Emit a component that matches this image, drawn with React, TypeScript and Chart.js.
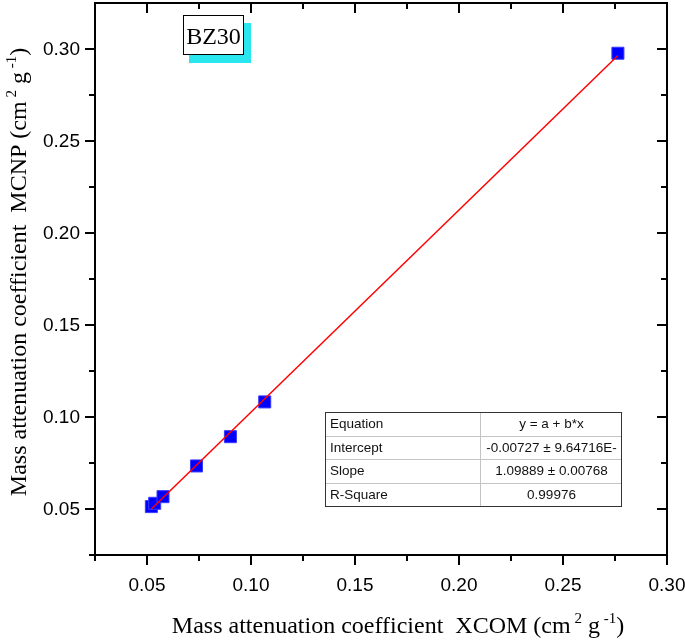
import React, { useEffect, useRef } from 'react';
import { Chart, registerables } from 'chart.js';

Chart.register(...registerables);

// ---- data ----
const xcomValues = [0.0521, 0.0537, 0.0577, 0.0738, 0.0901, 0.1066, 0.2764];
const mcnpValues = [0.0513, 0.0531, 0.0567, 0.0734, 0.0893, 0.1082, 0.2977];
const fitX = [0.0521, 0.2764];
const fitY = [0.05, 0.2965];
const xTicks = [0.05, 0.1, 0.15, 0.2, 0.25, 0.3];
const yTicks = [0.05, 0.1, 0.15, 0.2, 0.25, 0.3];
const xMinorTicks = [0.025, 0.075, 0.125, 0.175, 0.225, 0.275];
const yMinorTicks = [0.025, 0.075, 0.125, 0.175, 0.225, 0.275];
const tableRows = [
  ['Equation', 'y = a + b*x'],
  ['Intercept', '-0.00727 ± 9.64716E-'],
  ['Slope', '1.09889 ± 0.00768'],
  ['R-Square', '0.99976'],
];
const sampleLabel = 'BZ30';
const xTitle = [
  { t: 'Mass attenuation coefficient  XCOM (cm', sup: false },
  { t: ' 2', sup: true },
  { t: ' g', sup: false },
  { t: ' -1', sup: true },
  { t: ')', sup: false },
];
const yTitle = [
  { t: 'Mass attenuation coefficient  MCNP (cm', sup: false },
  { t: ' 2', sup: true },
  { t: ' g', sup: false },
  { t: ' -1', sup: true },
  { t: ')', sup: false },
];

const SERIF = '"Liberation Serif", "Times New Roman", serif';
const SANS = '"Liberation Sans", Arial, sans-serif';

function drawRich(ctx: CanvasRenderingContext2D, segs: { t: string; sup: boolean }[], cx: number, cy: number, angle: number) {
  const main = `24px ${SERIF}`;
  const small = `15px ${SERIF}`;
  let total = 0;
  const widths = segs.map((s) => {
    ctx.font = s.sup ? small : main;
    const w = ctx.measureText(s.t).width;
    total += w;
    return w;
  });
  ctx.save();
  ctx.translate(cx, cy);
  ctx.rotate(angle);
  ctx.fillStyle = '#000';
  ctx.textAlign = 'left';
  ctx.textBaseline = 'alphabetic';
  let xx = -total / 2;
  segs.forEach((s, i) => {
    ctx.font = s.sup ? small : main;
    ctx.fillText(s.t, xx, s.sup ? -10 : 0);
    xx += widths[i];
  });
  ctx.restore();
}

const decorPlugin = {
  id: 'decor',
  afterDraw(chart: any) {
    const { ctx, chartArea: a, scales } = chart;
    const xs = scales.x;
    const ys = scales.y;
    ctx.save();
    ctx.strokeStyle = '#000';
    ctx.lineWidth = 2;
    ctx.strokeRect(a.left, a.top, a.right - a.left, a.bottom - a.top);
    ctx.beginPath();
    xTicks.forEach((v) => {
      const p = xs.getPixelForValue(v);
      ctx.moveTo(p, a.bottom);
      ctx.lineTo(p, a.bottom + 10);
      ctx.moveTo(p, a.top);
      ctx.lineTo(p, a.top + 10);
    });
    xMinorTicks.forEach((v) => {
      const p = xs.getPixelForValue(v);
      ctx.moveTo(p, a.bottom);
      ctx.lineTo(p, a.bottom + 6);
      ctx.moveTo(p, a.top);
      ctx.lineTo(p, a.top + 6);
    });
    yTicks.forEach((v) => {
      const p = ys.getPixelForValue(v);
      ctx.moveTo(a.left - 10, p);
      ctx.lineTo(a.left, p);
      ctx.moveTo(a.right - 10, p);
      ctx.lineTo(a.right, p);
    });
    yMinorTicks.forEach((v) => {
      const p = ys.getPixelForValue(v);
      ctx.moveTo(a.left - 6, p);
      ctx.lineTo(a.left, p);
      ctx.moveTo(a.right - 6, p);
      ctx.lineTo(a.right, p);
    });
    ctx.stroke();

    // tick labels
    ctx.fillStyle = '#000';
    ctx.font = `19px ${SANS}`;
    ctx.textBaseline = 'middle';
    ctx.textAlign = 'center';
    xTicks.forEach((v) => {
      ctx.fillText(v.toFixed(2), xs.getPixelForValue(v), a.bottom + 31);
    });
    ctx.textAlign = 'right';
    yTicks.forEach((v) => {
      ctx.fillText(v.toFixed(2), a.left - 15, ys.getPixelForValue(v) + 1);
    });

    // axis titles
    drawRich(ctx, xTitle, 398, 633, 0);
    drawRich(ctx, yTitle, 26, 272, -Math.PI / 2);

    // sample label box
    ctx.fillStyle = '#2ae6ee';
    ctx.fillRect(189, 23, 62, 40);
    ctx.fillStyle = '#fff';
    ctx.fillRect(183, 15, 61, 40);
    ctx.lineWidth = 1;
    ctx.strokeStyle = '#000';
    ctx.strokeRect(183.5, 15.5, 60, 39);
    ctx.fillStyle = '#000';
    ctx.font = `24px ${SERIF}`;
    ctx.textAlign = 'center';
    ctx.textBaseline = 'alphabetic';
    ctx.fillText(sampleLabel, 213.5, 44);

    // table
    const tl = 325, tt = 412, tw = 296, rh = 23.5, split = 480;
    ctx.fillStyle = '#fff';
    ctx.fillRect(tl, tt, tw, rh * tableRows.length);
    ctx.strokeStyle = '#c4c4c4';
    ctx.lineWidth = 1;
    ctx.beginPath();
    for (let i = 1; i < tableRows.length; i++) {
      const yy = Math.round(tt + rh * i) + 0.5;
      ctx.moveTo(tl, yy);
      ctx.lineTo(tl + tw, yy);
    }
    ctx.moveTo(split + 0.5, tt);
    ctx.lineTo(split + 0.5, tt + rh * tableRows.length);
    ctx.stroke();
    ctx.strokeStyle = '#333';
    ctx.strokeRect(tl + 0.5, tt + 0.5, tw, rh * tableRows.length);
    ctx.font = `13.5px ${SANS}`;
    ctx.fillStyle = '#111';
    ctx.textBaseline = 'middle';
    tableRows.forEach((r, i) => {
      const cy = tt + rh * i + rh / 2 + 1;
      ctx.textAlign = 'left';
      ctx.fillText(r[0], tl + 5, cy);
      ctx.save();
      ctx.beginPath();
      ctx.rect(split + 1, tt, tl + tw - split - 2, rh * tableRows.length);
      ctx.clip();
      ctx.textAlign = 'center';
      ctx.fillText(r[1], (split + tl + tw) / 2 + 1, cy);
      ctx.restore();
    });
    ctx.restore();
  },
};

export default function App() {
  const ref = useRef<HTMLCanvasElement | null>(null);
  useEffect(() => {
    if (!ref.current) return;
    const chart = new Chart(ref.current, {
      type: 'scatter',
      data: {
        datasets: [
          {
            type: 'line',
            label: 'Linear fit',
            data: fitX.map((v, i) => ({ x: v, y: fitY[i] })),
            borderColor: '#ff0000',
            borderWidth: 1.5,
            pointRadius: 0,
            fill: false,
          } as any,
          {
            label: sampleLabel,
            data: xcomValues.map((v, i) => ({ x: v, y: mcnpValues[i] })),
            pointStyle: 'rect',
            pointRadius: 8.5,
            pointBackgroundColor: '#0000ff',
            pointBorderColor: '#3a3aff',
            pointBorderWidth: 1,
          },
        ],
      },
      options: {
        animation: false,
        responsive: false,
        maintainAspectRatio: false,
        layout: { autoPadding: false, padding: { left: 0, right: 18, top: 3, bottom: 0 } },
        plugins: { legend: { display: false }, tooltip: { enabled: false } },
        scales: {
          x: {
            type: 'linear',
            min: 0.025,
            max: 0.3,
            border: { display: false },
            grid: { display: false, drawTicks: false },
            ticks: { display: false },
            afterBuildTicks: (s: any) => {
              s.ticks = xTicks.map((v) => ({ value: v }));
            },
            afterFit: (s: any) => {
              s.height = 85;
            },
          },
          y: {
            type: 'linear',
            min: 0.025,
            max: 0.325,
            border: { display: false },
            grid: { display: false, drawTicks: false },
            ticks: { display: false },
            afterBuildTicks: (s: any) => {
              s.ticks = yTicks.map((v) => ({ value: v }));
            },
            afterFit: (s: any) => {
              s.width = 95;
            },
          },
        },
      },
      plugins: [decorPlugin],
    });
    return () => chart.destroy();
  }, []);
  return (
    <div style={{ position: 'absolute', left: 0, top: 0, width: 685, height: 640, background: '#fff' }}>
      <canvas ref={ref} width={685} height={640} />
    </div>
  );
}
